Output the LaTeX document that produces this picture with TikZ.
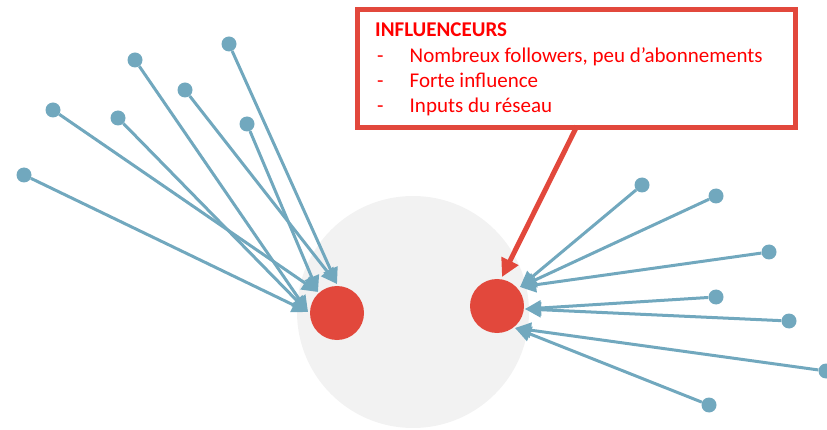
\documentclass[tikz,border=0pt]{standalone}
\usepackage{fontspec}
\setmainfont{Carlito}
\usetikzlibrary{arrows.meta}
\definecolor{linkblue}{RGB}{113,168,190}
\definecolor{hubred}{RGB}{226,72,60}
\definecolor{textred}{RGB}{255,0,0}
\definecolor{halogray}{RGB}{242,242,242}
\begin{document}
\begin{tikzpicture}[x=1pt,y=-1pt,
  follower/.style={circle,fill=linkblue,minimum size=15pt,inner sep=0pt},
  hub/.style={circle,fill=hubred,minimum size=54pt,inner sep=0pt},
  link/.style={draw=linkblue,line width=3pt,-{Triangle[length=16pt,width=15pt]}},
  pointer/.style={draw=hubred,line width=5pt,-{Triangle[length=18pt,width=18pt]}},
  boxtext/.style={anchor=base west,inner sep=0pt,text=textred,font=\fontsize{21}{25}\selectfont}]
\useasboundingbox (0,0) rectangle (827,430);
\node[circle,fill=halogray,minimum size=232pt,inner sep=0pt] (group) at (413,312) {};
% followers, left side
\node[follower] (f1) at (24,175) {}; \node[follower] (f2) at (53,110) {};
\node[follower] (f3) at (118,118) {}; \node[follower] (f4) at (135,60) {};
\node[follower] (f5) at (185,90) {}; \node[follower] (f6) at (229,44) {};
\node[follower] (f7) at (247,124) {};
% followers, right side
\node[follower] (g1) at (642,185) {}; \node[follower] (g2) at (716,196) {};
\node[follower] (g3) at (769,252) {}; \node[follower] (g4) at (716,297) {};
\node[follower] (g5) at (789,321) {}; \node[follower] (g6) at (826,371) {};
\node[follower] (g7) at (709,405) {};
% where the arrows end
\coordinate (tipA) at (337,284); \coordinate (tipB) at (318,292); \coordinate (tipC) at (308,312);
\coordinate (tipD) at (520,287); \coordinate (tipE) at (525,309); \coordinate (tipF) at (515,328);
\draw[link] (f1) -- (tipC); \draw[link] (f3) -- (tipC); \draw[link] (f4) -- (tipC);
\draw[link] (f2) -- (tipB); \draw[link] (f7) -- (tipB);
\draw[link] (f5) -- (tipA); \draw[link] (f6) -- (tipA);
\draw[link] (g1) -- (tipD); \draw[link] (g2) -- (tipD); \draw[link] (g3) -- (tipD);
\draw[link] (g4) -- (tipE); \draw[link] (g5) -- (tipE);
\draw[link] (g6) -- (tipF); \draw[link] (g7) -- (tipF);
\node[hub] (hubL) at (337,313) {};
\node[hub] (hubR) at (497,306) {};
% callout
\node[draw=hubred,line width=5pt,fill=white,minimum width=438pt,minimum height=118pt,inner sep=0pt] (callout) at (576.5,68.5) {};
\node[boxtext,font=\fontsize{21}{25}\selectfont\bfseries] (title) at (375,36.5) {INFLUENCEURS};
\node[boxtext] (item1) at (377,63) {\makebox[32.5pt][l]{-}Nombreux followers, peu d’abonnements};
\node[boxtext] (item2) at (377,88) {\makebox[32.5pt][l]{-}Forte influence};
\node[boxtext] (item3) at (377,113) {\makebox[32.5pt][l]{-}Inputs du réseau};
\coordinate (tail) at (577,126); \coordinate (aim) at (502,277);
\draw[pointer] (tail) -- (aim);
\end{tikzpicture}
\end{document}
